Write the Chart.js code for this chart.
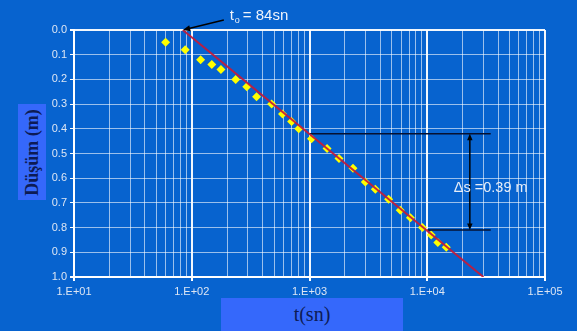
<!DOCTYPE html>
<html>
<head>
<meta charset="utf-8">
<script src="https://cdn.jsdelivr.net/npm/chart.js@4.4.1/dist/chart.umd.min.js"></script>
<style>
  html, body { margin: 0; padding: 0; background: #0763cf; }
  #wrap { position: relative; width: 577px; height: 331px; overflow: hidden; background: #0763cf; }
  canvas { position: absolute; left: 0; top: 0; }
  .lbl { position: absolute; background: #3568fb; color: #0d1b55; font-family: "Liberation Serif", "DejaVu Serif", serif; display: flex; align-items: center; justify-content: center; }
  #ylab { left: 18px; top: 104px; width: 28px; height: 96px; }
  #ylab span { transform: rotate(-90deg); white-space: nowrap; font-size: 18px; font-weight: bold; }
  #xlab { left: 221px; top: 298px; width: 182px; height: 33px; font-size: 20px; }
</style>
</head>
<body>
<div id="wrap">
  <canvas id="c" width="577" height="331"></canvas>
  <div class="lbl" id="ylab"><span>Düşüm (m)</span></div>
  <div class="lbl" id="xlab">t(sn)</div>
</div>
<script>
// ---- data ----
const timeSec = [60, 88, 119, 148, 177, 236, 293, 355, 477, 590, 705, 810, 1040, 1410, 1780, 2340, 2980, 3620, 4700, 5900, 7200, 9100, 10800, 12300, 14500];
const drawdown = [0.05, 0.08, 0.12, 0.14, 0.16, 0.20, 0.23, 0.27, 0.30, 0.34, 0.37, 0.40, 0.44, 0.48, 0.52, 0.56, 0.615, 0.645, 0.685, 0.73, 0.76, 0.80, 0.83, 0.86, 0.88];
const fitLineT = [84, 30000];
const fitLineS = [0.0, 1.0];
const t0 = 84;
const dsTopS = 0.42, dsBottomS = 0.81;
const dsTopStartT = 1000, dsBottomStartT = 10000, dsLineEndT = 34600, dsArrowT = 23000;
const xDecades = [10, 100, 1000, 10000, 100000];
const xTickLabels = ["1.E+01", "1.E+02", "1.E+03", "1.E+04", "1.E+05"];
const yTickLabels = ["0.0", "0.1", "0.2", "0.3", "0.4", "0.5", "0.6", "0.7", "0.8", "0.9", "1.0"];
const t0Label = "84sn";
const dsLabel = "\u0394s =0.39 m";

const isDecade = v => xDecades.some(d => Math.abs(v - d) < d * 1e-6);
const isYEdge = v => Math.abs(v) < 1e-6 || Math.abs(v - 1) < 1e-6;

function arrowHead(ctx, x1, y1, x2, y2, size) {
  const a = Math.atan2(y2 - y1, x2 - x1);
  ctx.beginPath();
  ctx.moveTo(x2, y2);
  ctx.lineTo(x2 - size * Math.cos(a - 0.4), y2 - size * Math.sin(a - 0.4));
  ctx.lineTo(x2 - size * Math.cos(a + 0.4), y2 - size * Math.sin(a + 0.4));
  ctx.closePath();
  ctx.fill();
}

const annot = {
  id: 'annot',
  afterDatasetsDraw(chart) {
    const ctx = chart.ctx, xs = chart.scales.x, ys = chart.scales.y;
    ctx.save();
    // t0 arrow
    const tipX = xs.getPixelForValue(t0), tipY = ys.getPixelForValue(0);
    const tailX = tipX + 41, tailY = tipY - 10;
    ctx.strokeStyle = '#000'; ctx.fillStyle = '#000'; ctx.lineWidth = 1.5;
    ctx.beginPath(); ctx.moveTo(tailX, tailY); ctx.lineTo(tipX + 4, tipY - 1); ctx.stroke();
    arrowHead(ctx, tailX, tailY, tipX, tipY, 8);
    // t0 text
    ctx.fillStyle = '#eef3fb';
    ctx.textBaseline = 'alphabetic';
    ctx.font = '15px "Liberation Sans", Arial, sans-serif';
    ctx.fillText('t', tipX + 47, tipY - 10);
    ctx.font = '9px "Liberation Sans", Arial, sans-serif';
    ctx.fillText('o', tipX + 52, tipY - 7);
    ctx.font = '15px "Liberation Sans", Arial, sans-serif';
    ctx.fillText('= ' + t0Label, tipX + 60, tipY - 10);
    // delta s vertical arrow
    const ax = xs.getPixelForValue(dsArrowT);
    const ay1 = ys.getPixelForValue(dsTopS), ay2 = ys.getPixelForValue(dsBottomS);
    ctx.strokeStyle = '#000'; ctx.fillStyle = '#000'; ctx.lineWidth = 1.5;
    ctx.beginPath(); ctx.moveTo(ax, ay1 + 4); ctx.lineTo(ax, ay2 - 4); ctx.stroke();
    arrowHead(ctx, ax, ay2, ax, ay1, 7);
    arrowHead(ctx, ax, ay1, ax, ay2, 7);
    // delta s text
    ctx.fillStyle = '#e6edf8';
    ctx.font = '14.5px "Liberation Sans", Arial, sans-serif';
    ctx.fillText(dsLabel, ax - 16, ys.getPixelForValue((dsTopS + dsBottomS) / 2) + 10);
    ctx.restore();
  }
};

new Chart(document.getElementById('c'), {
  type: 'scatter',
  data: {
    datasets: [
      {
        label: 'points',
        data: timeSec.map((t, i) => ({ x: t, y: drawdown[i] })),
        pointStyle: 'rectRot',
        pointRadius: 4.5,
        backgroundColor: '#ffff00',
        borderColor: '#ffee00',
        borderWidth: 0,
        order: 3
      },
      {
        label: 'fit',
        type: 'line',
        data: fitLineT.map((t, i) => ({ x: t, y: fitLineS[i] })),
        borderColor: 'rgba(196,26,58,0.92)',
        borderWidth: 2,
        pointRadius: 0,
        order: 1
      },
      {
        label: 'top',
        type: 'line',
        data: [{ x: dsTopStartT, y: dsTopS }, { x: dsLineEndT, y: dsTopS }],
        borderColor: '#061030',
        borderWidth: 1.5,
        pointRadius: 0,
        order: 2
      },
      {
        label: 'bottom',
        type: 'line',
        data: [{ x: dsBottomStartT, y: dsBottomS }, { x: dsLineEndT, y: dsBottomS }],
        borderColor: '#061030',
        borderWidth: 1.5,
        pointRadius: 0,
        order: 2
      }
    ]
  },
  options: {
    responsive: false,
    devicePixelRatio: 1,
    animation: false,
    layout: { padding: { left: 0, right: 32, top: 30, bottom: 0 } },
    plugins: { legend: { display: false }, tooltip: { enabled: false } },
    scales: {
      x: {
        type: 'logarithmic',
        min: 10,
        max: 100000,
        afterFit(s) { s.height = 54; },
        afterBuildTicks(s) {
          const ticks = [];
          xDecades.forEach((d, i) => {
            if (i === xDecades.length - 1) { ticks.push({ value: d }); return; }
            for (let m = 1; m <= 9; m++) ticks.push({ value: d * m });
          });
          s.ticks = ticks;
        },
        ticks: {
          autoSkip: false,
          maxRotation: 0,
          color: '#dde6f4',
          font: { family: '"Liberation Sans", Arial, sans-serif', size: 11 },
          padding: 4,
          callback(v) {
            const i = xDecades.findIndex(d => Math.abs(v - d) < d * 1e-6);
            return i >= 0 ? xTickLabels[i] : '';
          }
        },
        grid: {
          color: c => (c.tick && isDecade(c.tick.value)) ? 'rgba(255,255,255,0.95)' : 'rgba(255,255,255,0.6)',
          lineWidth: c => (c.tick && isDecade(c.tick.value)) ? 2 : 1,
          tickColor: c => (c.tick && isDecade(c.tick.value)) ? '#ffffff' : 'rgba(0,0,0,0)',
          tickLength: 4
        },
        border: { color: '#ffffff', width: 2 }
      },
      y: {
        min: 0,
        max: 1,
        reverse: true,
        afterFit(s) { s.width = 74; },
        ticks: {
          stepSize: 0.1,
          color: '#dde6f4',
          font: { family: '"Liberation Sans", Arial, sans-serif', size: 11 },
          padding: 3,
          callback: v => yTickLabels[Math.round(v * 10)]
        },
        grid: {
          color: c => (c.tick && isYEdge(c.tick.value)) ? 'rgba(255,255,255,0.95)' : 'rgba(255,255,255,0.6)',
          lineWidth: c => (c.tick && isYEdge(c.tick.value)) ? 2 : 1,
          tickColor: '#ffffff',
          tickLength: 4
        },
        border: { color: '#ffffff', width: 2 }
      }
    }
  },
  plugins: [annot]
});
</script>
</body>
</html>
